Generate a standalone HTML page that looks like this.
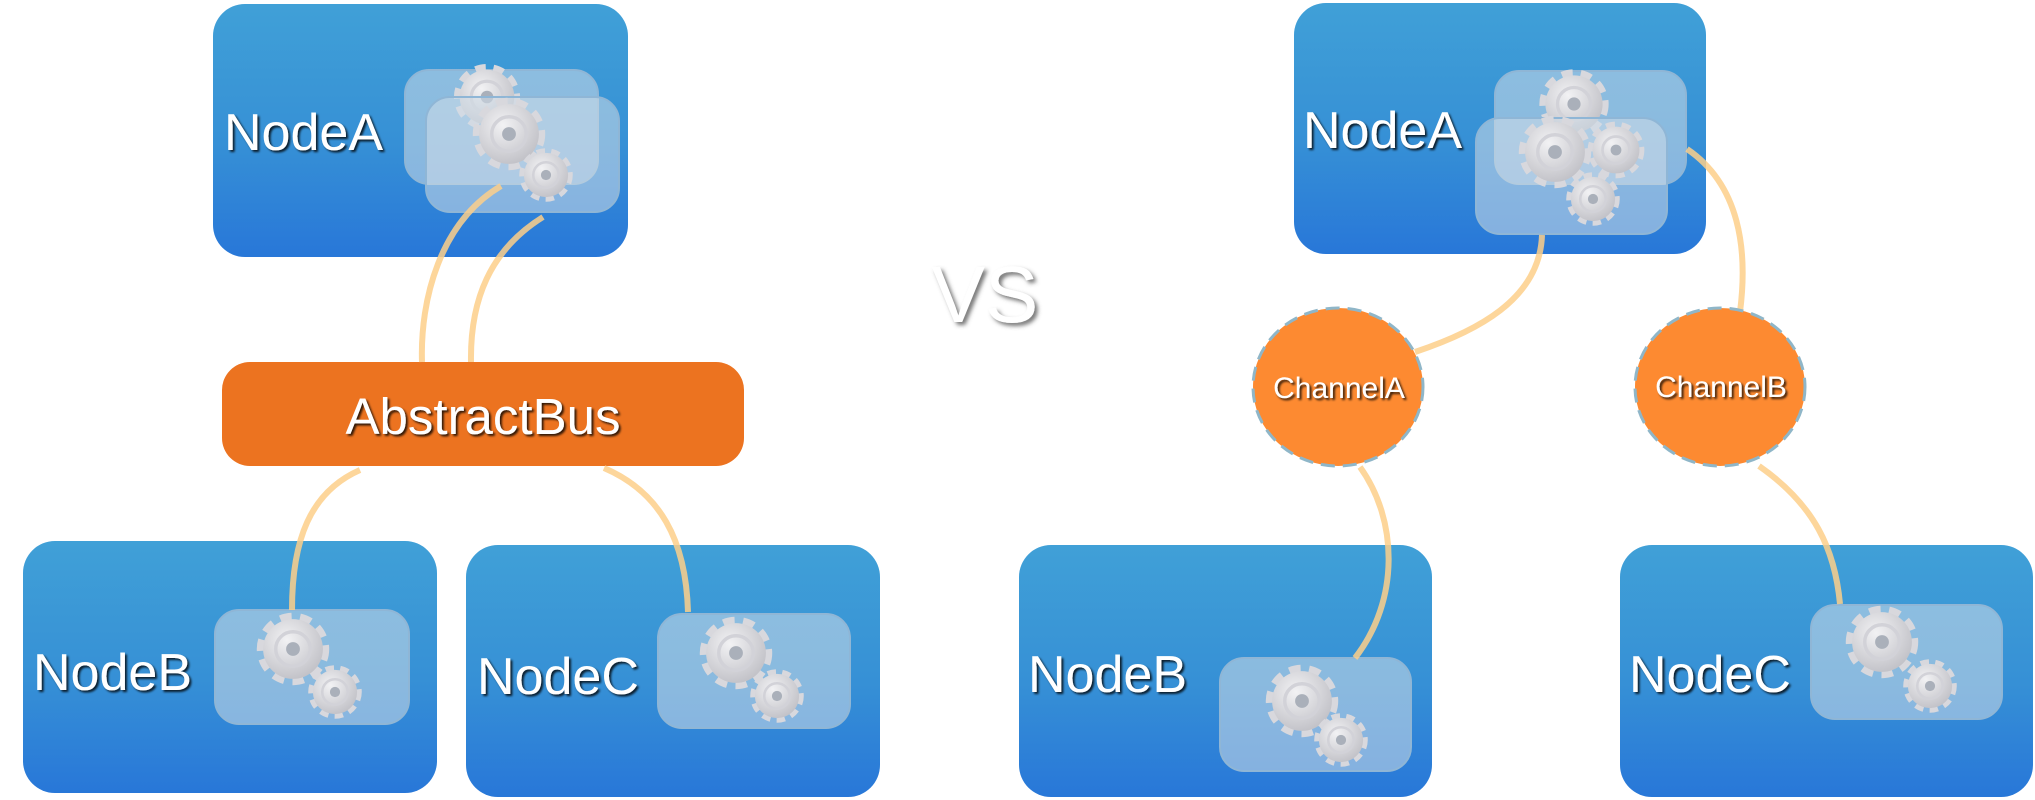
<!DOCTYPE html>
<html><head><meta charset="utf-8"><style>
html,body{margin:0;padding:0;background:#fff;}
svg{display:block}
text{font-family:"Liberation Sans",sans-serif;fill:#fff;}
</style></head><body>
<svg width="2035" height="800" viewBox="0 0 2035 800" xmlns="http://www.w3.org/2000/svg">
<defs>
<linearGradient id="nb" x1="0" y1="0" x2="0" y2="1">
<stop offset="0" stop-color="#40a0d7"/><stop offset="0.55" stop-color="#3690d6"/><stop offset="1" stop-color="#2877d8"/>
</linearGradient>
<radialGradient id="gg" cx="0.4" cy="0.35" r="0.7">
<stop offset="0" stop-color="#f2f2f4"/><stop offset="1" stop-color="#c0c0c6"/>
</radialGradient>
<filter id="ts" x="-10%" y="-10%" width="130%" height="140%"><feDropShadow dx="2" dy="2" stdDeviation="1" flood-color="#000" flood-opacity="0.8"/></filter>
<filter id="ts2" x="-10%" y="-10%" width="130%" height="140%"><feDropShadow dx="3" dy="3" stdDeviation="2" flood-color="#555" flood-opacity="0.8"/></filter>
<g id="gear">
<circle r="26" fill="none" stroke="#d8d8dd" stroke-width="11" stroke-dasharray="9.2 6.8"/>
<circle r="26" fill="url(#gg)"/>
<circle r="15" fill="none" stroke="#d2d2d8" stroke-width="3"/>
<circle r="6" fill="#aab0ba"/>
</g>
</defs>

<!-- LEFT -->
<rect x="213" y="4" width="415" height="253" rx="32" fill="url(#nb)"/>
<rect x="23" y="541" width="414" height="252" rx="32" fill="url(#nb)"/>
<rect x="466" y="545" width="414" height="252" rx="32" fill="url(#nb)"/>
<rect x="222" y="362" width="522" height="104" rx="28" fill="#ec7320"/>

<rect x="405" y="70" width="193" height="114" rx="24" fill="#cfdde8" fill-opacity="0.55" stroke="#8fb6d6" stroke-width="2"/>
<use href="#gear" transform="translate(487,97) scale(1.05)"/>
<rect x="426" y="97" width="193" height="115" rx="24" fill="#cfdde8" fill-opacity="0.55" stroke="#8fb6d6" stroke-width="2"/>
<use href="#gear" transform="translate(509,134) scale(1.15)"/>
<use href="#gear" transform="translate(546,175) scale(0.85)"/>

<rect x="215" y="610" width="194" height="114" rx="24" fill="#cfdde8" fill-opacity="0.55" stroke="#8fb6d6" stroke-width="2"/>
<use href="#gear" transform="translate(293,649) scale(1.15)"/>
<use href="#gear" transform="translate(335,692) scale(0.85)"/>
<rect x="658" y="614" width="192" height="114" rx="24" fill="#cfdde8" fill-opacity="0.55" stroke="#8fb6d6" stroke-width="2"/>
<use href="#gear" transform="translate(736,653) scale(1.15)"/>
<use href="#gear" transform="translate(777,696) scale(0.85)"/>

<g fill="none" stroke="#fdcf8a" stroke-width="6" stroke-opacity="0.85" stroke-linecap="butt">
<path d="M501,186 C440,222 420,300 422,362"/>
<path d="M543,217 C490,250 470,300 471,362"/>
<path d="M360,470 C310,492 292,540 292,610"/>
<path d="M604,468 C660,492 686,540 688,612"/>
</g>

<text x="224" y="150" font-size="52" filter="url(#ts)">NodeA</text>
<text x="483" y="434" font-size="51" text-anchor="middle" filter="url(#ts)">AbstractBus</text>
<text x="33" y="690" font-size="52" filter="url(#ts)">NodeB</text>
<text x="477" y="694" font-size="52" filter="url(#ts)">NodeC</text>

<text x="985" y="322" font-size="80" text-anchor="middle" filter="url(#ts2)">VS</text>

<!-- RIGHT -->
<rect x="1294" y="3" width="412" height="251" rx="32" fill="url(#nb)"/>
<rect x="1019" y="545" width="413" height="252" rx="32" fill="url(#nb)"/>
<rect x="1620" y="545" width="413" height="252" rx="32" fill="url(#nb)"/>

<rect x="1495" y="71" width="191" height="113" rx="24" fill="#cfdde8" fill-opacity="0.55" stroke="#8fb6d6" stroke-width="2"/>
<use href="#gear" transform="translate(1574,104) scale(1.1)"/>
<rect x="1476" y="118" width="191" height="116" rx="24" fill="#cfdde8" fill-opacity="0.55" stroke="#8fb6d6" stroke-width="2"/>
<use href="#gear" transform="translate(1555,152) scale(1.15)"/>
<use href="#gear" transform="translate(1616,150) scale(0.9)"/>
<use href="#gear" transform="translate(1593,199) scale(0.85)"/>

<rect x="1220" y="658" width="191" height="113" rx="24" fill="#cfdde8" fill-opacity="0.55" stroke="#8fb6d6" stroke-width="2"/>
<use href="#gear" transform="translate(1302,701) scale(1.15)"/>
<use href="#gear" transform="translate(1341,740) scale(0.85)"/>
<rect x="1811" y="605" width="191" height="114" rx="24" fill="#cfdde8" fill-opacity="0.55" stroke="#8fb6d6" stroke-width="2"/>
<use href="#gear" transform="translate(1882,642) scale(1.15)"/>
<use href="#gear" transform="translate(1930,686) scale(0.85)"/>

<g fill="none" stroke="#fdcf8a" stroke-width="6" stroke-opacity="0.85">
<path d="M1542,235 C1540,300 1475,332 1415,352"/>
<path d="M1687,149 C1740,185 1748,250 1740,312"/>
<path d="M1360,467 C1398,520 1400,600 1355,658"/>
<path d="M1759,466 C1815,505 1835,550 1840,604"/>
</g>

<ellipse cx="1338" cy="387" rx="85" ry="79" fill="#fd8a31" stroke="#8fb6c8" stroke-width="3" stroke-dasharray="14 8"/>
<ellipse cx="1720" cy="387" rx="85" ry="79" fill="#fd8a31" stroke="#8fb6c8" stroke-width="3" stroke-dasharray="14 8"/>
<text x="1339" y="398" font-size="30" text-anchor="middle" filter="url(#ts)">ChannelA</text>
<text x="1721" y="397" font-size="30" text-anchor="middle" filter="url(#ts)">ChannelB</text>

<text x="1303" y="148" font-size="52" filter="url(#ts)">NodeA</text>
<text x="1028" y="692" font-size="52" filter="url(#ts)">NodeB</text>
<text x="1629" y="692" font-size="52" filter="url(#ts)">NodeC</text>
</svg>
</body></html>
